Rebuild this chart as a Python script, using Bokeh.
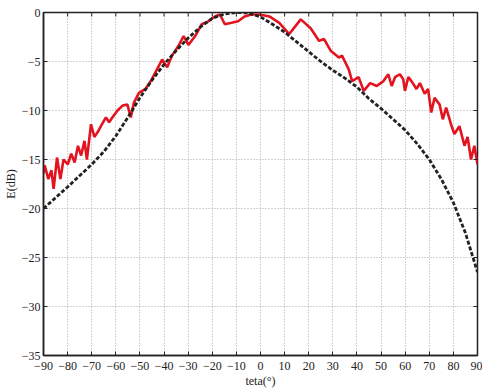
from bokeh.plotting import figure
from bokeh.models import FixedTicker, Range1d
from bokeh.embed import file_html
from bokeh.resources import INLINE

# Measured pattern (red, solid)
meas_theta = [-90, -89.5, -88, -86.7, -85.8, -84.4, -83, -81.7, -79.9, -78.5, -77.1, -75.7,
              -74.4, -73, -72, -70.3, -68.9, -67.5, -66.2, -64.1, -62.8, -61.4, -59.3, -57.2,
              -55.2, -53.8, -52.5, -50.4, -47.7, -45.5, -43.6, -40.8, -38.7, -36.7, -34, -31.9,
              -29.9, -27.1, -24.4, -21.6, -18.9, -16.8, -14.8, -12, -9.3, -6.6, -3.8, -0.4,
              3.7, 7.8, 11.9, 16.7, 20.8, 24.3, 26.3, 29.1, 32.5, 33.8, 36.6, 38, 40.7, 42.8,
              45.5, 48.2, 51, 53, 54.4, 55.8, 57.8, 59.2, 59.9, 61.3, 62.6, 64.7, 66.1, 68.1,
              69.5, 70.8, 72.2, 74.3, 75.6, 77, 79, 80.4, 82.5, 84.6, 85.9, 87.3, 88.7, 90]
meas_db = [-16.4, -15.6, -17.0, -16.1, -18.0, -14.8, -17.0, -15.0, -15.5, -14.4, -15.3, -13.6,
           -14.6, -13.1, -15.0, -11.4, -12.7, -12.2, -11.6, -10.7, -11.2, -10.7, -10.0, -9.5,
           -9.4, -10.7, -9.2, -8.2, -7.8, -7.0, -6.1, -4.8, -5.6, -4.4, -3.4, -2.4,
           -3.3, -2.4, -1.2, -0.9, -0.4, -0.2, -1.2, -1.05, -0.9, -0.4, -0.2, -0.2,
           -0.4, -1.05, -2.2, -0.7, -1.6, -2.9, -2.7, -3.9, -4.6, -4.4, -5.8, -7.0, -6.6, -8.0,
           -7.2, -7.5, -7.0, -6.3, -7.5, -6.6, -6.3, -6.8, -8.0, -6.6, -7.0, -7.8, -7.2, -8.3,
           -7.8, -10.2, -8.7, -9.4, -10.9, -9.7, -11.4, -12.4, -11.6, -13.6, -12.7, -15.0, -13.6, -15.5]

# Simulated pattern (black, dashed)
sim_theta = [-90, -80, -70, -65, -60, -55, -50, -45, -40, -35, -30, -25, -20, -15, -10, -5,
             0, 5, 10, 15, 20, 25, 30, 35, 40, 45, 50, 55, 60, 65, 70, 75, 80, 85, 90]
sim_db = [-20, -17.8, -15.5, -14.2, -12.6, -10.7, -8.7, -6.9, -5.3, -3.9, -2.6, -1.5, -0.6, -0.15, 0, -0.05,
          -0.45, -1.2, -2.0, -3.0, -4.0, -5.0, -5.9, -6.7, -7.6, -8.8, -9.8, -10.9, -12.0, -13.4,
          -15.0, -17.0, -19.4, -22.5, -26.5]

x_ticks = list(range(-90, 91, 10))
y_ticks = list(range(-35, 1, 5))
x_min, x_max = -90, 90
y_min, y_max = -35, 0

FONT = "Liberation Serif"
INK = "#222222"

p = figure(width=482, height=390, output_backend="svg", toolbar_location=None,
           x_range=Range1d(x_min, x_max), y_range=Range1d(y_min, y_max),
           min_border_left=39, min_border_top=12, min_border_right=5, min_border_bottom=27,
           background_fill_color="white", border_fill_color="white")

p.line(meas_theta, meas_db, line_color="#e3141f", line_width=2.6)
p.line(sim_theta, sim_db, line_color=INK, line_width=2.8, line_dash="4 2")

for ax in (p.xaxis[0], p.yaxis[0]):
    ax.major_tick_in = 4
    ax.major_tick_out = 0
    ax.minor_tick_in = 0
    ax.minor_tick_out = 0
    ax.axis_line_color = INK
    ax.axis_line_width = 1.5
    ax.major_tick_line_color = INK
    ax.major_label_text_font = FONT
    ax.major_label_text_font_size = "12px"
    ax.major_label_text_color = INK
    ax.axis_label_text_font = FONT
    ax.axis_label_text_font_size = "12px"
    ax.axis_label_text_font_style = "normal"
    ax.axis_label_text_color = INK
    ax.axis_label_standoff = 1

p.xaxis[0].major_label_standoff = 6
p.yaxis[0].major_label_standoff = 3
p.xaxis[0].ticker = FixedTicker(ticks=x_ticks)
p.yaxis[0].ticker = FixedTicker(ticks=y_ticks)
p.xaxis[0].axis_label = "teta(°)"
p.yaxis[0].axis_label = "E(dB)"

# inward ticks on top and right edges of the box
tick_dy = (y_max - y_min) * 4 / 344
tick_dx = (x_max - x_min) * 4 / 438
p.segment(x0=x_ticks, y0=[y_max] * len(x_ticks), x1=x_ticks, y1=[y_max - tick_dy] * len(x_ticks),
          line_color=INK, line_width=1)
p.segment(x0=[x_max] * len(y_ticks), y0=y_ticks, x1=[x_max - tick_dx] * len(y_ticks), y1=y_ticks,
          line_color=INK, line_width=1)

p.xgrid.ticker = FixedTicker(ticks=x_ticks)
p.ygrid.ticker = FixedTicker(ticks=y_ticks)
for g in (p.xgrid[0], p.ygrid[0]):
    g.grid_line_color = "#a8a8a8"
    g.grid_line_dash = "1 2"
    g.grid_line_width = 1

p.outline_line_color = INK
p.outline_line_width = 1.5

open("out.html", "w").write(file_html(p, INLINE))
